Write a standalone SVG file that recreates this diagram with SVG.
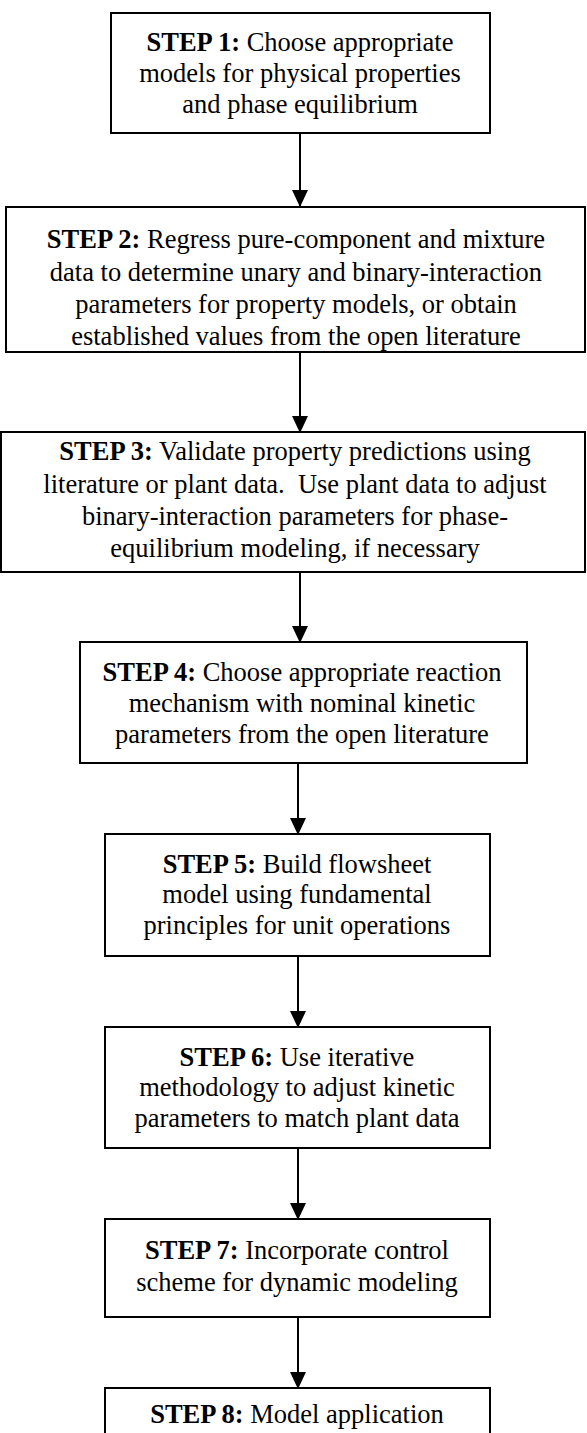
<svg xmlns="http://www.w3.org/2000/svg" width="587" height="1433" viewBox="0 0 587 1433">
<style>
.box{fill:#fff;stroke:#000;stroke-width:2}
.t{font-family:"Liberation Serif","Times New Roman",serif;font-size:26.5px;fill:#000;text-anchor:middle;white-space:pre}
.b{font-weight:bold}
.c{stroke:#000;stroke-width:2;fill:none}
</style>
<rect width="587" height="1433" fill="#fff"/>
<g id="connectors">
<line class="c" x1="300" y1="133" x2="300" y2="206"/>
<path d="M292,190 L308,190 L300,207 Z"/>
<line class="c" x1="300" y1="352" x2="300" y2="432"/>
<path d="M292,416 L308,416 L300,433 Z"/>
<line class="c" x1="300" y1="572" x2="300" y2="642"/>
<path d="M292,626 L308,626 L300,643 Z"/>
<line class="c" x1="298" y1="763" x2="298" y2="834"/>
<path d="M290,818 L306,818 L298,835 Z"/>
<line class="c" x1="298" y1="956" x2="298" y2="1027"/>
<path d="M290,1011 L306,1011 L298,1028 Z"/>
<line class="c" x1="298" y1="1148" x2="298" y2="1219"/>
<path d="M290,1203 L306,1203 L298,1220 Z"/>
<line class="c" x1="298" y1="1317" x2="298" y2="1388"/>
<path d="M290,1372 L306,1372 L298,1389 Z"/>
</g>
<g id="step1">
<rect class="box" x="111" y="13" width="379" height="120"/>
<text class="t" x="300" y="51"><tspan class="b">STEP 1:</tspan> Choose appropriate</text>
<text class="t" x="300" y="82">models for physical properties</text>
<text class="t" x="300" y="113">and phase equilibrium</text>
</g>
<g id="step2">
<rect class="box" x="6" y="207" width="579" height="145"/>
<text class="t" x="296" y="248"><tspan class="b">STEP 2:</tspan> Regress pure-component and mixture</text>
<text class="t" x="296" y="281">data to determine unary and binary-interaction</text>
<text class="t" x="296" y="313">parameters for property models, or obtain</text>
<text class="t" x="296" y="345">established values from the open literature</text>
</g>
<g id="step3">
<rect class="box" x="1" y="432" width="584" height="140"/>
<text class="t" x="295" y="460"><tspan class="b">STEP 3:</tspan> Validate property predictions using</text>
<text class="t" x="295" y="493">literature or plant data.  Use plant data to adjust</text>
<text class="t" x="295" y="525">binary-interaction parameters for phase-</text>
<text class="t" x="295" y="557">equilibrium modeling, if necessary</text>
</g>
<g id="step4">
<rect class="box" x="80" y="642" width="447" height="121"/>
<text class="t" x="302" y="681"><tspan class="b">STEP 4:</tspan> Choose appropriate reaction</text>
<text class="t" x="302" y="712">mechanism with nominal kinetic</text>
<text class="t" x="302" y="743">parameters from the open literature</text>
</g>
<g id="step5">
<rect class="box" x="105" y="834" width="385" height="122"/>
<text class="t" x="297" y="873"><tspan class="b">STEP 5:</tspan> Build flowsheet</text>
<text class="t" x="297" y="903">model using fundamental</text>
<text class="t" x="297" y="934">principles for unit operations</text>
</g>
<g id="step6">
<rect class="box" x="105" y="1027" width="385" height="121"/>
<text class="t" x="297" y="1066"><tspan class="b">STEP 6:</tspan> Use iterative</text>
<text class="t" x="297" y="1096">methodology to adjust kinetic</text>
<text class="t" x="297" y="1127">parameters to match plant data</text>
</g>
<g id="step7">
<rect class="box" x="105" y="1219" width="385" height="98"/>
<text class="t" x="297" y="1259"><tspan class="b">STEP 7:</tspan> Incorporate control</text>
<text class="t" x="297" y="1291">scheme for dynamic modeling</text>
</g>
<g id="step8">
<rect class="box" x="105" y="1388" width="385" height="60"/>
<text class="t" x="297" y="1423"><tspan class="b">STEP 8:</tspan> Model application</text>
</g>
</svg>
